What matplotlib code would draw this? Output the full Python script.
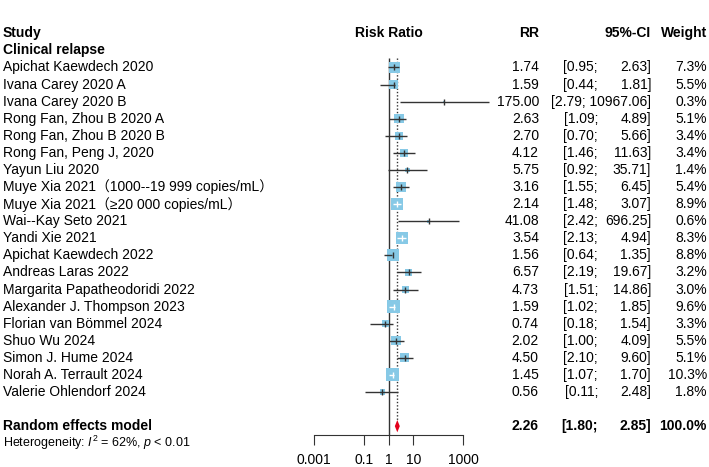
import numpy as np
import matplotlib
matplotlib.use("Agg")
import matplotlib.pyplot as plt
from matplotlib import transforms
from matplotlib.ticker import FixedLocator, FixedFormatter

plt.rcParams['font.family'] = ['Liberation Sans', 'Noto Sans CJK SC', 'DejaVu Sans']
plt.rcParams['mathtext.fontset'] = 'custom'
plt.rcParams['mathtext.rm'] = 'Liberation Sans'
plt.rcParams['mathtext.it'] = 'Liberation Sans:italic'

# Data
studies = [
    "Apichat Kaewdech 2020",
    "Ivana Carey 2020 A",
    "Ivana Carey 2020 B",
    "Rong Fan, Zhou B 2020 A",
    "Rong Fan, Zhou B 2020 B",
    "Rong Fan, Peng J, 2020",
    "Yayun Liu 2020",
    "Muye Xia 2021\uff081000--19 999 copies/mL\uff09",
    "Muye Xia 2021\uff08\u226520 000 copies/mL\uff09",
    "Wai--Kay Seto 2021",
    "Yandi Xie 2021",
    "Apichat Kaewdech 2022",
    "Andreas Laras 2022",
    "Margarita Papatheodoridi 2022",
    "Alexander J. Thompson 2023",
    "Florian van B\u00f6mmel 2024",
    "Shuo Wu 2024",
    "Simon J. Hume 2024",
    "Norah A. Terrault 2024",
    "Valerie Ohlendorf 2024",
]
rr = [1.74, 1.59, 175.00, 2.63, 2.70, 4.12, 5.75, 3.16, 2.14, 41.08,
      3.54, 1.56, 6.57, 4.73, 1.59, 0.74, 2.02, 4.50, 1.45, 0.56]
lower = [0.95, 0.44, 2.79, 1.09, 0.70, 1.46, 0.92, 1.55, 1.48, 2.42,
         2.13, 0.64, 2.19, 1.51, 1.02, 0.18, 1.00, 2.10, 1.07, 0.11]
upper = [2.63, 1.81, 10967.06, 4.89, 5.66, 11.63, 35.71, 6.45, 3.07, 696.25,
         4.94, 1.35, 19.67, 14.86, 1.85, 1.54, 4.09, 9.60, 1.70, 2.48]
weight = [7.3, 5.5, 0.3, 5.1, 3.4, 3.4, 1.4, 5.4, 8.9, 0.6,
          8.3, 8.8, 3.2, 3.0, 9.6, 3.3, 5.5, 5.1, 10.3, 1.8]
pooled_rr, pooled_lo, pooled_hi = 2.26, 1.80, 2.85
xticks = [0.001, 0.1, 1, 10, 1000]
xtick_labels = ["0.001", "0.1", "1", "10", "1000"]

W, H = 709, 467
fig = plt.figure(figsize=(W / 100, H / 100), dpi=100)

# row layout (pixels): header at 33.3, step 17.08
y0, step = 33.3, 17.08
ax = fig.add_axes([314 / W, 0, (463 - 314) / W, 1])
ax.set_xscale('log')
ax.set_xlim(0.001, 1000)
ax.set_ylim((H - y0) / step, -y0 / step)
ax.patch.set_visible(False)
for s in ['top', 'left', 'right']:
    ax.spines[s].set_visible(False)
axis_row = (435 - y0) / step
ax.spines['bottom'].set_position(('data', axis_row))
ax.spines['bottom'].set_bounds(0.001, 1000)
ax.spines['bottom'].set_color('#333333')
ax.xaxis.set_major_locator(FixedLocator(xticks))
ax.xaxis.set_major_formatter(FixedFormatter(xtick_labels))
ax.xaxis.set_minor_locator(FixedLocator([]))
ax.tick_params(axis='x', direction='out', length=7, pad=6, labelsize=10,
               color='#333333')
ax.set_yticks([])

rows = np.arange(len(studies)) + 2
top_row = (58 - y0) / step
sum_row = 23
het_row = 24

# reference line at 1 and dotted line at pooled estimate
ax.vlines(1, top_row, axis_row, color='#333333', lw=1, zorder=1)
ax.vlines(pooled_rr, top_row, sum_row - 0.36, color='#333333', lw=1,
          linestyles=(0, (1, 1.4)), zorder=1)

# boxes
box_color = '#87C9E6'
side_px = 13 * np.sqrt(np.array(weight) / 10.3)
ax.scatter(rr, rows, marker='s', s=(side_px * 0.72) ** 2, color=box_color,
           edgecolors='none', zorder=2)

px_per_dec = (463 - 314) / 6
for i, r in enumerate(rows):
    half = side_px[i] / 2 / px_per_dec
    inside = (np.log10(upper[i]) - np.log10(rr[i]) < half and
              np.log10(rr[i]) - np.log10(lower[i]) < half)
    c = 'white' if inside else '#333333'
    ax.hlines(r, lower[i], upper[i], color=c, lw=1, zorder=3, clip_on=False)
    ax.plot(rr[i], r, marker='|', ms=4, mew=1, color=c, zorder=4, clip_on=False)

# pooled diamond
h = 0.36
ax.fill([pooled_lo, pooled_rr, pooled_hi, pooled_rr],
        [sum_row, sum_row - h, sum_row, sum_row + h],
        color='#E3001B', zorder=4, lw=0)

# text columns
tr = transforms.blended_transform_factory(fig.transFigure, ax.transData)
fs = 10

def col(xpx, row, txt, ha='left', bold=False, size=fs):
    fig.text(xpx / W, row, txt, transform=tr, ha=ha, va='center', fontsize=size,
             fontweight='bold' if bold else 'normal', color='black')

col(3, 0, "Study", bold=True)
col(389, 0, "Risk Ratio", ha='center', bold=True)
col(539, 0, "RR", ha='right', bold=True)
col(651, 0, "95%-CI", ha='right', bold=True)
col(707, 0, "Weight", ha='right', bold=True)
col(3, 1, "Clinical relapse", bold=True)

for i, r in enumerate(rows):
    col(3, r, studies[i])
    col(539, r, f"{rr[i]:.2f}", ha='right')
    up = f"{upper[i]:.2f}]"
    if len(up) > 7:
        col(651, r, f"[{lower[i]:.2f}; {up}", ha='right')
    else:
        col(598, r, f"[{lower[i]:.2f};", ha='right')
        col(651, r, up, ha='right')
    col(707, r, f"{weight[i]:.1f}%", ha='right')

col(3, sum_row, "Random effects model", bold=True)
col(539, sum_row, f"{pooled_rr:.2f}", ha='right', bold=True)
col(598, sum_row, f"[{pooled_lo:.2f};", ha='right', bold=True)
col(651, sum_row, f"{pooled_hi:.2f}]", ha='right', bold=True)
col(707, sum_row, "100.0%", ha='right', bold=True)
col(3, het_row, r"Heterogeneity: $I^2$ = 62%, $p$ < 0.01", size=9)

fig.savefig("out.png", dpi=100)
